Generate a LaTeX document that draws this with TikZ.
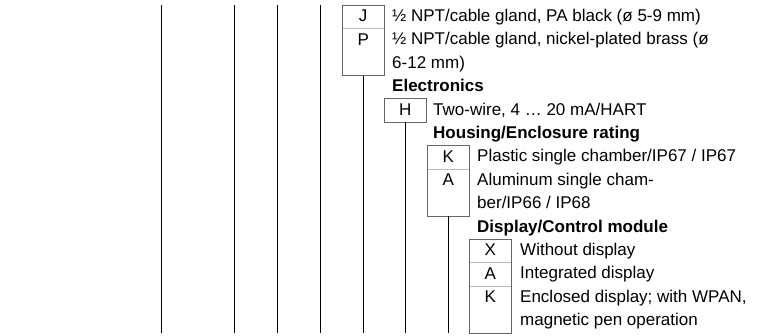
\documentclass[tikz,border=0pt]{standalone}
\usepackage{fontspec}
\setmainfont{Liberation Sans}
\usepackage{tikz}
\usetikzlibrary{calc}
\usepackage{xcolor}
\definecolor{boxgray}{HTML}{666666}
\definecolor{sepgray}{HTML}{BBBBBB}

\begin{document}
\begin{tikzpicture}[x=1pt,y=-1pt,
		cell/.style={minimum width=42pt, inner sep=0pt, text height=16.4pt, anchor=north west},
		one/.style={cell, text depth=7pt},
		two/.style={cell, text depth=30.4pt},
		item/.style={anchor=north west, inner sep=0pt, align=left},
		head/.style={item, font=\bfseries\fontsize{17}{23.4}\selectfont},
		outline/.style={draw=boxgray, line width=0.8pt},
		divider/.style={draw=sepgray, line width=0.8pt},
		feed/.style={line width=1pt}]
		\tikzstyle{every node}=[font=\fontsize{17}{23.4}\selectfont]
		\useasboundingbox (0,0) rectangle (757,335);
		\coordinate (bottom) at (0,333);
		\foreach \x in {161,234,277,320}
		\draw[feed] (\x,5) -- (\x,333);
		\node[one] (J) at (342,5) {J};
		\node[two] (P) at (342,28.4) {P};
		\draw[divider] (J.south west) -- (J.south east);
		\draw[outline] (J.north west) rectangle (P.south east);
		\draw[feed] (P.south) -- (P.south |- bottom);
		\node[item] (tJ) at (392,5) {\strut ½ NPT/cable gland, PA black (ø 5-9 mm)};
		\node[item] (tP) at (392,28.4) {\strut ½ NPT/cable gland, nickel-plated brass (ø\\6-12 mm)};
		\node[head] (electronics) at (392,75.2) {\strut Electronics};
		\node[one] (H) at (384,98.6) {H};
		\draw[outline] (H.north west) rectangle (H.south east);
		\draw[feed] (H.south) -- (H.south |- bottom);
		\node[item] (tH) at (433,98.6) {\strut Two-wire, 4 … 20 mA/HART};
		\node[head] (housing) at (433,122) {\strut Housing/Enclosure rating};
		\node[one] (K) at (427,145.4) {K};
		\node[two] (A) at (427,168.8) {A};
		\draw[divider] (K.south west) -- (K.south east);
		\draw[outline] (K.north west) rectangle (A.south east);
		\draw[feed] (A.south) -- (A.south |- bottom);
		\node[item] (tK) at (477,145.4) {\strut Plastic single chamber/IP67 / IP67};
		\node[item] (tA) at (477,168.8) {\strut Aluminum single cham-\\ber/IP66 / IP68};
		\node[head] (display) at (477,215.6) {\strut Display/Control module};
		\node[one] (X) at (469,239) {X};
		\node[one] (Ai) at (469,262.4) {A};
		\node[two] (Ke) at (469,285.8) {K};
		\draw[divider] (X.south west) -- (X.south east);
		\draw[divider] (Ai.south west) -- (Ai.south east);
		\draw[outline] (X.north west) rectangle (Ke.south east);
		\node[item] (tX) at (520,239) {\strut Without display};
		\node[item] (tAi) at (520,262.4) {\strut Integrated display};
		\node[item] (tKe) at (520,285.8) {\strut Enclosed display; with WPAN,\\magnetic pen operation};
	\end{tikzpicture}
\end{document}
